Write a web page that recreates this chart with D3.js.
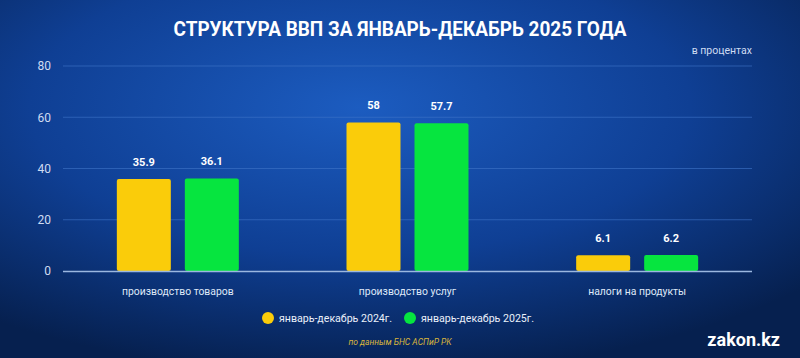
<!DOCTYPE html>
<html><head><meta charset="utf-8">
<script src="https://cdn.jsdelivr.net/npm/d3@7"></script>
<style>body{margin:0;background:#0a2d6e}svg{display:block}</style>
</head><body><svg id="c" width="800" height="358"></svg>
<script>
const categories = ["производство товаров", "производство услуг", "налоги на продукты"];
const seriesNames = ["январь-декабрь 2024г.", "январь-декабрь 2025г."];
const values2024 = [35.9, 58, 6.1];
const values2025 = [36.1, 57.7, 6.2];
const yTicks = [0, 20, 40, 60, 80];
const colors = ["#FACC0A", "#06E53F"];

const svg = d3.select("#c");
const W = 800, H = 358;
const defs = svg.append("defs");
const rg = defs.append("radialGradient").attr("id","bg").attr("cx","45%").attr("cy","30%").attr("r","75%");
rg.append("stop").attr("offset","0%").attr("stop-color","#1c5cc0");
rg.append("stop").attr("offset","55%").attr("stop-color","#0f3f94");
rg.append("stop").attr("offset","100%").attr("stop-color","#06204f");
svg.append("rect").attr("width",W).attr("height",H).attr("fill","url(#bg)");

const x0 = d3.scaleBand().domain(categories).range([63, 752]).padding(0);
const y = d3.scaleLinear().domain([0, 80]).range([271, 66]);
const barW = 54, gap = 14;

// grid
const gGrid = svg.append("g");
gGrid.selectAll("line").data(yTicks.filter(d=>d>0)).join("line")
  .attr("x1",63).attr("x2",752).attr("y1",d=>y(d)).attr("y2",d=>y(d))
  .attr("stroke","#3f74c8").attr("stroke-opacity",0.6).attr("stroke-width",1);

// y axis labels
const yAxis = d3.axisLeft(y).tickValues(yTicks).tickSize(0).tickPadding(0);
const ga = svg.append("g").attr("transform","translate(51,0)").call(yAxis);
ga.select(".domain").remove();
ga.selectAll("text").attr("fill","#cfdcf2").attr("font-family","Roboto, sans-serif").attr("font-size",12);

// bars
const data = categories.map((c,i)=>({c, vals:[values2024[i], values2025[i]]}));
const groups = svg.append("g").selectAll("g").data(data).join("g");
groups.each(function(d){
  const cx = x0(d.c) + x0.bandwidth()/2;
  const g = d3.select(this);
  d.vals.forEach((v,k)=>{
    const xl = k===0 ? cx - gap/2 - barW : cx + gap/2;
    g.append("rect").attr("x",xl).attr("y",y(v)).attr("width",barW).attr("height",y(0)-y(v))
      .attr("rx",2).attr("fill",colors[k]);
    g.append("text").attr("x",xl+barW/2).attr("y",y(v)-13).attr("text-anchor","middle")
      .attr("fill","#ffffff").attr("font-family","Roboto, sans-serif").attr("font-weight","bold")
      .attr("font-size",11).text(v);
  });
  g.append("text").attr("x",cx).attr("y",295).attr("text-anchor","middle")
    .attr("fill","#dfe8f8").attr("font-family","Roboto, sans-serif").attr("font-size",10.4).text(d.c);
});

// zero line
svg.append("line").attr("x1",63).attr("x2",752).attr("y1",y(0)+0.5).attr("y2",y(0)+0.5)
  .attr("stroke","#9bb7e0").attr("stroke-width",1.5);

// title
svg.append("text").attr("x",400).attr("y",36).attr("text-anchor","middle")
  .attr("fill","#ffffff").attr("font-family","Roboto, sans-serif").attr("font-weight","bold")
  .attr("font-size",21).attr("textLength",453).attr("lengthAdjust","spacingAndGlyphs")
  .text("СТРУКТУРА ВВП ЗА ЯНВАРЬ-ДЕКАБРЬ 2025 ГОДА");

svg.append("text").attr("x",752).attr("y",54).attr("text-anchor","end")
  .attr("fill","#cfdcf2").attr("font-family","Roboto, sans-serif").attr("font-size",10.5)
  .text("в процентах");

// legend
const legX = [268, 410];
seriesNames.forEach((s,k)=>{
  svg.append("circle").attr("cx",legX[k]).attr("cy",318).attr("r",6).attr("fill",colors[k]);
  svg.append("text").attr("x",legX[k]+11).attr("y",322).attr("fill","#eaf0fa")
    .attr("font-family","Roboto, sans-serif").attr("font-size",10.6).text(s);
});

svg.append("text").attr("x",400).attr("y",345).attr("text-anchor","middle")
  .attr("fill","#d9b63c").attr("font-family","Roboto, sans-serif").attr("font-style","italic")
  .attr("font-size",8.5).text("по данным БНС АСПиР РК");

svg.append("text").attr("x",780).attr("y",346).attr("text-anchor","end")
  .attr("fill","#ffffff").attr("font-family","Roboto, sans-serif").attr("font-weight","bold")
  .attr("font-size",18).text("zakon.kz");
</script></body></html>
